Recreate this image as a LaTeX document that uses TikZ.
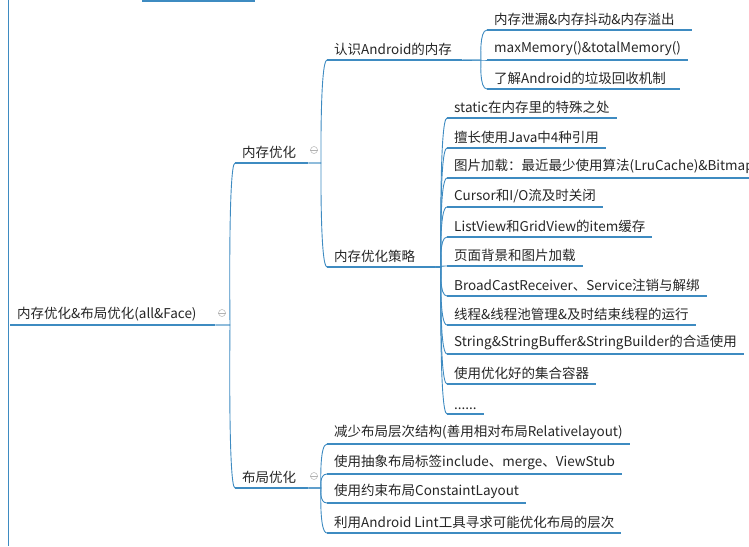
\documentclass[tikz,border=0pt]{standalone}
\usepackage{fontspec}
\setmainfont{Noto Sans CJK SC}
\begin{document}
\begin{tikzpicture}[x=1pt,y=-1pt,
  item/.style={anchor=south west,inner xsep=7pt,inner ysep=4pt,align=left,font=\fontsize{13.5}{15}\selectfont,text=black!85},
  ul/.style={draw=blue!30!gray!70!cyan,line width=1.8pt},
  br/.style={draw=blue!30!gray!70!cyan,line width=0.9pt},
  col/.style={circle,draw=gray!60,inner sep=0pt,minimum size=7pt,line width=0.5pt}]
\useasboundingbox (0,0) rectangle (749,546);
\clip (0,0) rectangle (749,546);
\draw[br] (8,0) -- (8,546);
\draw[ul] (142,1) -- (255,1);
% root
\node[item,text width=191pt] (r) at (10,325) {内存优化\&布局优化(all\&Face)};
\node[item,text width=59pt] (m) at (235,163) {内存优化};
\node[item,text width=59pt] (l) at (235,488) {布局优化};
\node[item,text width=121pt] (k) at (327,60) {认识Android的内存};
\node[item,text width=94pt] (s) at (327,267) {内存优化策略};
% level 3 under k
\node[item,text width=191pt] (k1) at (487,30) {内存泄漏\&内存抖动\&内存溢出};
\node[item] (k2) at (487,60) {maxMemory()\&totalMemory()};
\node[item,text width=179pt] (k3) at (487,89) {了解Android的垃圾回收机制};
% strategy
\node[item] (s1) at (447,118) {static在内存里的特殊之处};
\node[item] (s2) at (447,148) {擅长使用Java中4种引用};
\node[item] (s3) at (447,178) {图片加载：最近最少使用算法(LruCache)\&Bitmap};
\node[item] (s4) at (447,207) {Cursor和I/O流及时关闭};
\node[item] (s5) at (447,237) {ListView和GridView的item缓存};
\node[item] (s6) at (447,266) {页面背景和图片加载};
\node[item] (s7) at (447,296) {BroadCastReceiver、Service注销与解绑};
\node[item] (s8) at (447,325) {线程\&线程池管理\&及时结束线程的运行};
\node[item] (s9) at (447,354) {String\&StringBuffer\&StringBuilder的合适使用};
\node[item] (s10) at (447,384) {使用优化好的集合容器};
\node[item] (s11) at (447,414) {......};
% layout
\node[item] (l1) at (327,444) {减少布局层次结构(善用相对布局Relativelayout)};
\node[item] (l2) at (327,474) {使用抽象布局标签include、merge、ViewStub};
\node[item] (l3) at (327,503) {使用约束布局ConstaintLayout};
\node[item] (l4) at (327,533) {利用Android Lint工具寻求可能优化布局的层次};
% underlines
\foreach \n in {r,m,l,k,s,k1,k2,k3,s1,s2,s3,s4,s5,s6,s7,s8,s9,s10,s11,l1,l2,l3,l4}
  \draw[ul] (\n.south west) -- (\n.south east);
% collapse markers
\node[col] (cr) at (222,313) {}; \draw[gray!60,line width=0.5pt] (cr.west) -- (cr.east);
\node[col] (cm) at (314,150) {}; \draw[gray!60,line width=0.5pt] (cm.west) -- (cm.east);
\node[col] (cl) at (314,476) {}; \draw[gray!60,line width=0.5pt] (cl.west) -- (cl.east);
% branches
\foreach \c in {m,l}{\draw[br] (r.south east) -- (230,325) .. controls (230,325) and (228,0|-\c.south west) .. (\c.south west);}
\foreach \c in {k,s}{\draw[br] (m.south east) -- (321,163) .. controls (321,163) and (320,0|-\c.south west) .. (\c.south west);}
\foreach \c in {k1,k2,k3}{\draw[br] (k.south east) -- (481,60) .. controls (481,60) and (479,0|-\c.south west) .. (\c.south west);}
\foreach \c in {s1,s2,s3,s4,s5,s6,s7,s8,s9,s10,s11}{\draw[br] (s.south east) -- (441,267) .. controls (441,267) and (439,0|-\c.south west) .. (\c.south west);}
\foreach \c in {l1,l2,l3,l4}{\draw[br] (l.south east) -- (321,488) .. controls (321,488) and (319,0|-\c.south west) .. (\c.south west);}
\end{tikzpicture}
\end{document}
